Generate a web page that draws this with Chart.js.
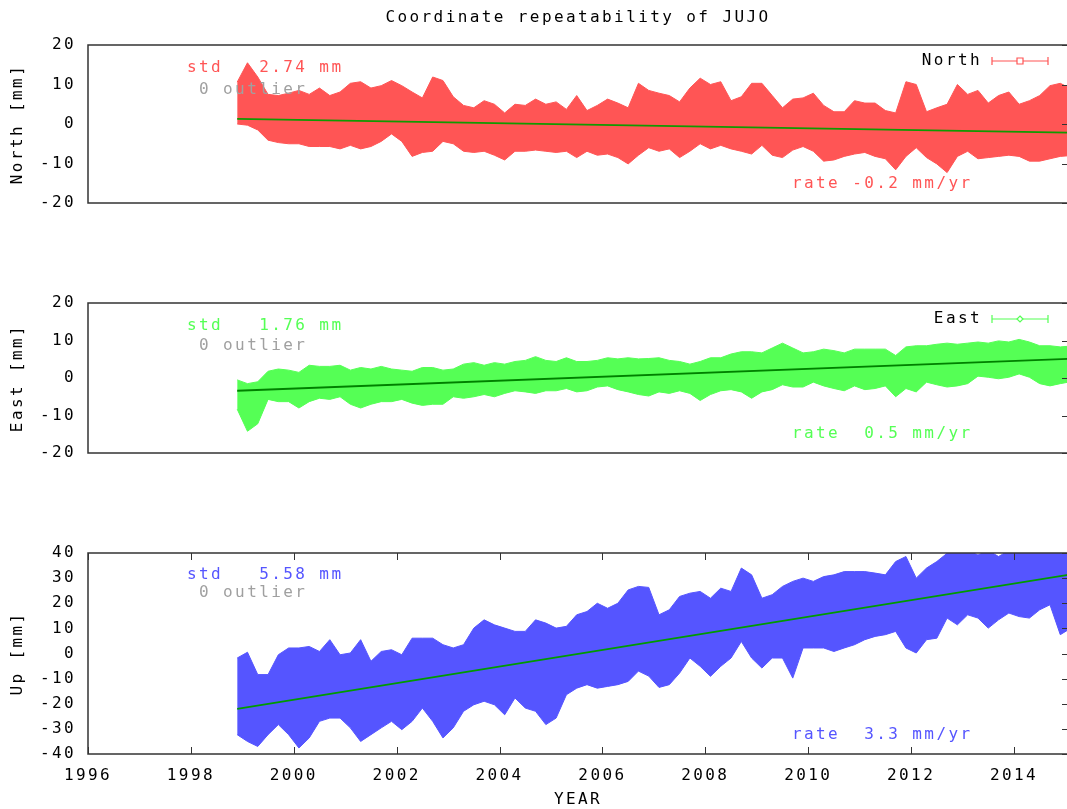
<!DOCTYPE html>
<html>
<head>
<meta charset="utf-8">
<title>Coordinate repeatability of JUJO</title>
<script src="https://cdn.jsdelivr.net/npm/chart.js@4.4.0/dist/chart.umd.min.js"></script>
<style>
  html, body { margin: 0; padding: 0; background: #fff; overflow: hidden; }
  #page { position: relative; width: 1067px; height: 809px; overflow: hidden; background: #fff; }
  .panel { position: absolute; left: 0; }
  .panel canvas { display: block; }
</style>
</head>
<body>
<div id="page">
  <div class="panel" style="top:0px"><canvas id="northChart" width="1075" height="270"></canvas></div>
  <div class="panel" style="top:270px"><canvas id="eastChart" width="1075" height="250"></canvas></div>
  <div class="panel" style="top:520px"><canvas id="upChart" width="1075" height="289"></canvas></div>
</div>
<script>
// sample epochs (decimal year) of the envelope
const years = [
    1998.9, 1999.1, 1999.3, 1999.5, 1999.7, 1999.9, 2000.1, 2000.3, 2000.5, 2000.7,
    2000.9, 2001.1, 2001.3, 2001.5, 2001.7, 2001.9, 2002.1, 2002.3, 2002.5, 2002.7,
    2002.9, 2003.1, 2003.3, 2003.5, 2003.7, 2003.9, 2004.1, 2004.3, 2004.5, 2004.7,
    2004.9, 2005.1, 2005.3, 2005.5, 2005.7, 2005.9, 2006.1, 2006.3, 2006.5, 2006.7,
    2006.9, 2007.1, 2007.3, 2007.5, 2007.7, 2007.9, 2008.1, 2008.3, 2008.5, 2008.7,
    2008.9, 2009.1, 2009.3, 2009.5, 2009.7, 2009.9, 2010.1, 2010.3, 2010.5, 2010.7,
    2010.9, 2011.1, 2011.3, 2011.5, 2011.7, 2011.9, 2012.1, 2012.3, 2012.5, 2012.7,
    2012.9, 2013.1, 2013.3, 2013.5, 2013.7, 2013.9, 2014.1, 2014.3, 2014.5, 2014.7,
    2014.9, 2015.1
];

// North [mm]: upper / lower edge of the error bars
const northTop = [
    10.6, 15.5, 11.9, 7.5, 7.2, 7.8, 8.5, 7.5, 9.1, 7.2,
    8.1, 10.3, 10.7, 9.1, 9.7, 11.0, 9.7, 8.1, 6.6, 11.9,
    11.0, 6.9, 4.7, 4.1, 5.9, 5.0, 2.8, 5.0, 4.7, 6.3,
    5.0, 5.6, 3.7, 7.2, 3.4, 4.7, 6.3, 5.3, 4.1, 10.3,
    8.5, 7.8, 7.2, 5.6, 9.1, 11.6, 10.0, 10.7, 5.9, 6.9,
    10.3, 10.3, 7.2, 4.1, 6.3, 6.6, 7.8, 4.7, 3.1, 3.1,
    5.9, 5.3, 5.3, 3.4, 2.8, 10.7, 10.0, 3.1, 4.1, 5.0,
    10.0, 7.5, 8.5, 5.3, 7.2, 8.1, 5.0, 5.9, 7.2, 9.7,
    10.3, 9.0
];
const northBottom = [
    0.0, -0.3, -1.5, -4.1, -4.7, -5.0, -5.0, -5.7, -5.7, -5.7,
    -6.3, -5.4, -6.3, -5.7, -4.4, -2.5, -4.4, -8.2, -7.2, -6.9,
    -4.4, -5.0, -6.9, -7.2, -6.9, -7.9, -9.1, -6.9, -6.9, -6.6,
    -6.9, -7.2, -6.9, -8.5, -6.9, -7.9, -7.6, -8.5, -10.1, -7.9,
    -6.0, -6.9, -6.3, -8.5, -6.9, -5.0, -6.3, -5.4, -6.3, -6.9,
    -7.6, -5.4, -7.9, -8.5, -6.6, -5.7, -6.9, -9.4, -9.1, -8.2,
    -7.6, -7.2, -8.2, -8.8, -11.6, -8.2, -6.0, -8.5, -10.1, -12.3,
    -8.2, -6.9, -8.8, -8.5, -8.2, -7.9, -8.2, -9.4, -9.4, -8.8,
    -8.2, -8.0
];

// East [mm]
const eastTop = [
    -0.5, -1.5, -1.0, 1.8, 2.4, 2.1, 1.5, 3.4, 3.1, 3.1,
    3.4, 2.1, 2.8, 2.4, 3.1, 2.4, 2.1, 1.8, 2.8, 2.8,
    2.1, 2.4, 3.7, 4.1, 3.4, 4.1, 3.7, 4.4, 4.7, 5.7,
    4.7, 4.4, 5.4, 4.4, 4.4, 4.7, 5.4, 5.1, 5.4, 5.1,
    5.2, 5.4, 4.7, 4.4, 3.7, 4.4, 5.4, 5.4, 6.4, 7.0,
    7.0, 6.7, 8.0, 9.3, 8.0, 6.7, 7.0, 7.7, 7.3, 6.7,
    7.7, 7.7, 7.7, 7.7, 6.0, 8.3, 8.6, 8.6, 9.0, 9.3,
    9.0, 9.3, 9.6, 9.3, 9.9, 9.6, 10.3, 9.6, 8.6, 8.6,
    8.3, 8.5
];
const eastBottom = [
    -8.3, -14.2, -12.2, -5.7, -6.3, -6.3, -8.0, -6.3, -5.4, -5.7,
    -5.0, -7.0, -8.0, -7.0, -6.3, -6.3, -5.7, -6.7, -7.3, -7.0,
    -7.0, -5.0, -5.4, -5.0, -4.4, -5.0, -4.1, -3.4, -3.7, -4.1,
    -3.4, -3.4, -2.8, -3.7, -3.4, -2.4, -2.1, -3.1, -3.7, -4.4,
    -4.8, -3.7, -4.1, -3.4, -4.1, -6.0, -4.4, -3.4, -3.1, -3.7,
    -5.4, -3.7, -3.1, -1.8, -2.4, -2.4, -1.1, -2.1, -2.8, -3.4,
    -2.1, -3.1, -2.8, -2.1, -5.0, -2.8, -3.7, -1.1, -1.8, -2.4,
    -2.1, -1.5, 0.5, 0.2, -0.2, 0.2, 1.1, 0.2, -1.5, -2.1,
    -1.5, -1.0
];

// Up [mm]
const upTop = [
    -1.8, 0.5, -8.4, -8.4, -0.5, 2.2, 2.2, 2.8, 0.8, 5.5,
    -0.5, 0.2, 5.5, -3.1, 0.8, 1.5, -0.5, 6.1, 6.1, 6.1,
    3.5, 2.2, 3.5, 10.1, 13.4, 11.4, 10.1, 8.8, 8.8, 13.4,
    12.1, 10.1, 10.8, 15.4, 16.7, 20.0, 18.0, 20.0, 25.3, 26.7,
    26.3, 15.4, 17.4, 22.7, 24.0, 24.7, 22.0, 26.0, 24.7, 34.0,
    31.3, 22.0, 23.4, 26.7, 28.7, 30.0, 28.7, 30.6, 31.3, 32.6,
    32.6, 32.6, 32.0, 31.3, 36.6, 38.6, 30.0, 34.0, 36.6, 39.9,
    41.0, 41.0, 39.2, 41.0, 38.6, 41.0, 41.0, 41.0, 41.0, 41.0,
    41.0, 41.0
];
const upBottom = [
    -32.3, -35.0, -37.0, -32.3, -28.3, -32.3, -37.6, -33.6, -27.0, -25.7,
    -25.7, -29.6, -35.0, -32.3, -29.6, -27.0, -30.3, -27.0, -21.7, -27.0,
    -33.6, -29.6, -23.0, -20.4, -19.0, -20.4, -24.4, -17.7, -21.7, -23.0,
    -28.3, -25.7, -16.4, -13.8, -12.4, -13.8, -13.1, -12.4, -11.1, -7.0,
    -9.0, -13.5, -12.4, -7.8, -1.8, -5.1, -9.1, -5.1, -1.8, 4.8,
    -1.8, -5.8, -1.8, -1.8, -9.8, 2.2, 2.2, 2.2, 0.8, 2.2,
    3.5, 5.5, 6.8, 7.5, 8.8, 2.2, 0.2, 5.5, 6.1, 14.1,
    11.4, 15.4, 14.1, 10.1, 13.4, 16.1, 14.7, 14.1, 17.4, 19.4,
    7.5, 10.0
];

// fitted linear trend, end points
const trendYears = [1998.9, 2015.05];
const northTrend = [1.3, -2.2];
const eastTrend = [-3.4, 5.1];
const upTrend = [-22.0, 31.3];

const xTickYears = [1996, 1998, 2000, 2002, 2004, 2006, 2008, 2010, 2012, 2014];

const FONT_FAMILY = "'DejaVu Sans Mono', 'Liberation Mono', monospace";
const FONT = { family: FONT_FAMILY, size: 16, weight: 'normal' };
const LETTER_SPACING = '2.4px';

function toPoints(xs, ys) {
    return xs.map((x, i) => ({ x: x, y: ys[i] }));
}

function drawLegendSymbol(ctx, x0, x1, y, color, marker) {
    ctx.strokeStyle = color;
    ctx.lineWidth = 1.2;
    ctx.beginPath();
    ctx.moveTo(x0, y); ctx.lineTo(x1, y);
    ctx.moveTo(x0, y - 4); ctx.lineTo(x0, y + 4);
    ctx.moveTo(x1, y - 4); ctx.lineTo(x1, y + 4);
    ctx.stroke();
    const cx = (x0 + x1) / 2;
    ctx.fillStyle = '#fff';
    ctx.beginPath();
    if (marker === 'square') {
        ctx.rect(cx - 3, y - 3, 6, 6);
    } else {
        ctx.moveTo(cx, y - 3); ctx.lineTo(cx + 3, y); ctx.lineTo(cx, y + 3); ctx.lineTo(cx - 3, y); ctx.closePath();
    }
    ctx.fill();
    ctx.stroke();
}

// gnuplot-like frame, mirror ticks and the text annotations
const gnuplotFrame = {
    id: 'gnuplotFrame',
    beforeUpdate(chart) { chart.ctx.letterSpacing = LETTER_SPACING; },
    beforeDraw(chart) { chart.ctx.letterSpacing = LETTER_SPACING; },
    afterDatasetsDraw(chart, args, opts) {
        const { ctx, chartArea: a } = chart;
        ctx.save();
        ctx.letterSpacing = LETTER_SPACING;

        ctx.strokeStyle = '#333';
        ctx.lineWidth = 1.5;
        ctx.strokeRect(a.left, a.top, a.right - a.left, a.bottom - a.top);

        ctx.lineWidth = 1;
        ctx.beginPath();
        const ys = chart.scales.y;
        ys.ticks.forEach((t) => {
            const py = Math.round(ys.getPixelForValue(t.value)) + 0.5;
            ctx.moveTo(a.right - 6, py); ctx.lineTo(a.right, py);
        });
        if (opts.xTicks) {
            const xs = chart.scales.x;
            xs.ticks.forEach((t) => {
                const px = Math.round(xs.getPixelForValue(t.value)) + 0.5;
                ctx.moveTo(px, a.bottom); ctx.lineTo(px, a.bottom - 7);
                ctx.moveTo(px, a.top); ctx.lineTo(px, a.top + 7);
            });
        }
        ctx.stroke();

        ctx.font = `${FONT.size}px ${FONT_FAMILY}`;
        ctx.textBaseline = 'middle';
        ctx.textAlign = 'left';
        ctx.fillStyle = opts.color;
        ctx.fillText(opts.stdText, 187, a.top + opts.stdDy);
        ctx.fillText(opts.rateText, 792, a.bottom - 19.5);
        ctx.fillStyle = '#a0a0a0';
        ctx.fillText('0 outlier', 199, a.top + opts.outlierDy);

        if (opts.legend) {
            ctx.fillStyle = '#000';
            ctx.textAlign = 'right';
            ctx.fillText(opts.legend, 982, a.top + 16);
            drawLegendSymbol(ctx, 992, 1048, a.top + 16, opts.color, opts.marker);
        }
        if (opts.title) {
            ctx.fillStyle = '#000';
            ctx.textAlign = 'center';
            ctx.fillText(opts.title, (a.left + a.right) / 2, 18);
        }
        ctx.restore();
    }
};

function makePanel(canvasId, cfg) {
    const color = cfg.color;
    return new Chart(document.getElementById(canvasId), {
        type: 'line',
        data: {
            datasets: [
                {
                    label: 'trend',
                    data: toPoints(trendYears, cfg.trend),
                    borderColor: cfg.trendColor,
                    borderWidth: 1.8,
                    pointRadius: 0,
                    fill: false,
                    order: 0
                },
                {
                    label: cfg.name,
                    data: toPoints(years, cfg.top),
                    borderColor: color,
                    backgroundColor: color,
                    borderWidth: 1,
                    pointRadius: 0,
                    fill: '+1',
                    order: 1
                },
                {
                    label: cfg.name + ' low',
                    data: toPoints(years, cfg.bottom),
                    borderColor: color,
                    borderWidth: 1,
                    pointRadius: 0,
                    fill: false,
                    order: 1
                }
            ]
        },
        options: {
            responsive: false,
            animation: false,
            events: [],
            layout: { padding: { left: 0, right: 7, top: cfg.padTop, bottom: cfg.padBottom } },
            plugins: {
                legend: { display: false },
                tooltip: { enabled: false },
                gnuplotFrame: {
                    color: color,
                    stdText: cfg.stdText,
                    rateText: cfg.rateText,
                    stdDy: cfg.stdDy,
                    outlierDy: cfg.outlierDy,
                    legend: cfg.legend,
                    marker: cfg.marker,
                    title: cfg.title,
                    xTicks: cfg.showX
                }
            },
            scales: {
                x: {
                    type: 'linear',
                    min: 1996,
                    max: 2015.05,
                    display: cfg.showX,
                    grid: { display: false, drawTicks: false },
                    border: { display: false },
                    afterBuildTicks: (s) => { s.ticks = xTickYears.map((v) => ({ value: v })); },
                    ticks: {
                        font: FONT, color: '#000', padding: 12,
                        maxRotation: 0, autoSkip: false, includeBounds: false,
                        callback: (v) => String(v)
                    },
                    title: { display: cfg.showX, text: 'YEAR', font: FONT, color: '#000', padding: { top: 0, bottom: 0 } },
                    afterFit: (s) => { s.height = 55; }
                },
                y: {
                    min: cfg.yMin,
                    max: cfg.yMax,
                    grid: { display: false, drawTicks: false },
                    border: { display: false },
                    ticks: {
                        stepSize: cfg.yStep, font: FONT, color: '#000', padding: 12,
                        includeBounds: false, callback: (v) => String(v)
                    },
                    title: { display: true, text: cfg.yTitle, font: FONT, color: '#000', padding: { top: 8, bottom: 0 } },
                    afterFit: (s) => { s.width = 88; }
                }
            }
        },
        plugins: [gnuplotFrame]
    });
}

makePanel('northChart', {
    name: 'North', legend: 'North', marker: 'square', title: 'Coordinate repeatability of JUJO',
    color: '#ff5555', trendColor: '#109a00',
    top: northTop, bottom: northBottom, trend: northTrend,
    yMin: -20, yMax: 20, yStep: 5, yTitle: 'North [mm]',
    stdText: 'std   2.74 mm', rateText: 'rate -0.2 mm/yr', stdDy: 22.5, outlierDy: 44.5,
    padTop: 45, padBottom: 12, showX: false
});

makePanel('eastChart', {
    name: 'East', legend: 'East', marker: 'diamond',
    color: '#55ff55', trendColor: '#008000',
    top: eastTop, bottom: eastBottom, trend: eastTrend,
    yMin: -20, yMax: 20, yStep: 5, yTitle: 'East [mm]',
    stdText: 'std   1.76 mm', rateText: 'rate  0.5 mm/yr', stdDy: 22.5, outlierDy: 43,
    padTop: 33, padBottom: 12, showX: false
});

makePanel('upChart', {
    name: 'Up', legend: null, marker: null,
    color: '#5555ff', trendColor: '#009a00',
    top: upTop, bottom: upBottom, trend: upTrend,
    yMin: -40, yMax: 40, yStep: 10, yTitle: 'Up [mm]',
    stdText: 'std   5.58 mm', rateText: 'rate  3.3 mm/yr', stdDy: 21.5, outlierDy: 39.5,
    padTop: 33, padBottom: 0, showX: true
});
</script>
</body>
</html>
